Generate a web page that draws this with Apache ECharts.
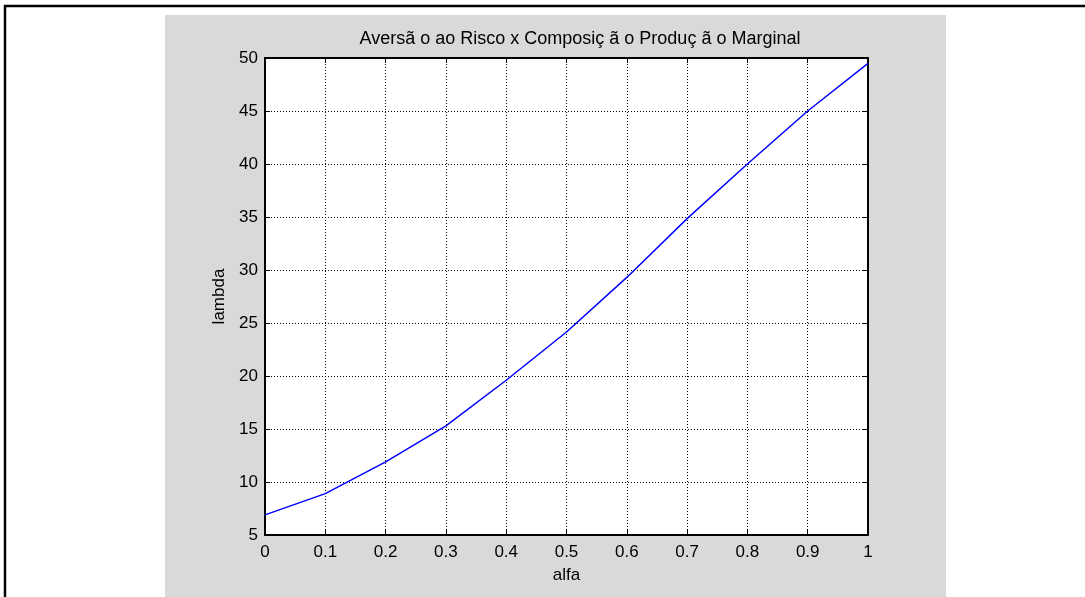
<!DOCTYPE html>
<html>
<head>
<meta charset="utf-8">
<script src="https://cdn.jsdelivr.net/npm/echarts@6/dist/echarts.min.js"></script>
<style>
html,body{margin:0;padding:0;background:#fff;}
#c{width:1085px;height:597px;}
</style>
</head>
<body>
<div id="c"></div>
<script>
const titleText = 'Aversã o ao Risco x Composiç ã o Produç ã o Marginal';
const xName = 'alfa';
const yName = 'lambda';
const alfa = [0, 0.1, 0.2, 0.3, 0.4, 0.5, 0.6, 0.7, 0.8, 0.9, 1.0];
const lambda = [6.9, 8.9, 11.9, 15.3, 19.6, 24.15, 29.3, 34.85, 40.0, 45.0, 49.5];
const xTicks = [0, 0.1, 0.2, 0.3, 0.4, 0.5, 0.6, 0.7, 0.8, 0.9, 1];
const yTicks = [5, 10, 15, 20, 25, 30, 35, 40, 45, 50];

const chart = echarts.init(document.getElementById('c'), null, {renderer: 'canvas'});
const FONT = 'Liberation Sans, Arial, sans-serif';
const FS = 17;
const fmt = v => String(Math.round(v * 10) / 10);

const common = {
  axisLine: {show: true, onZero: false, lineStyle: {color: '#000', width: 2}},
  axisTick: {show: true, inside: true, length: 5, lineStyle: {color: '#000', width: 1}},
};

chart.setOption({
  animation: false,
  backgroundColor: '#fff',
  graphic: [
    {type: 'rect', z: -10, shape: {x: 165, y: 15, width: 781, height: 600}, style: {fill: '#d9d9d9'}},
    {type: 'rect', z: -9, shape: {x: 5, y: 6, width: 1300, height: 800}, style: {fill: 'none', stroke: '#000', lineWidth: 2.5}}
  ],
  title: {
    text: titleText, left: 575, top: 25, textAlign: 'center',
    textStyle: {fontFamily: FONT, fontSize: 18, fontWeight: 'normal', color: '#000'}
  },
  grid: {left: 265, right: 217, top: 58, bottom: 62, show: true, backgroundColor: '#fff', borderColor: '#000', borderWidth: 0},
  xAxis: [{
    type: 'value', min: xTicks[0], max: xTicks[xTicks.length - 1], interval: 0.1,
    position: 'bottom',
    name: xName, nameLocation: 'middle', nameGap: 32,
    nameTextStyle: {fontFamily: FONT, fontSize: FS, color: '#000'},
    ...common,
    axisLabel: {fontFamily: FONT, fontSize: FS, color: '#000', margin: 9, formatter: fmt},
    splitLine: {show: true, lineStyle: {color: '#000', type: [1, 2], width: 1}}
  }, {
    type: 'value', min: xTicks[0], max: xTicks[xTicks.length - 1], interval: 0.1,
    position: 'top', ...common, axisLabel: {show: false}, splitLine: {show: false}
  }],
  yAxis: [{
    type: 'value', min: yTicks[0], max: yTicks[yTicks.length - 1], interval: 5,
    position: 'left',
    name: yName, nameLocation: 'middle', nameGap: 33, nameRotate: 90,
    nameTextStyle: {fontFamily: FONT, fontSize: FS, color: '#000'},
    ...common,
    axisLabel: {fontFamily: FONT, fontSize: FS, color: '#000', margin: 7},
    splitLine: {show: true, lineStyle: {color: '#000', type: [1, 2], width: 1}}
  }, {
    type: 'value', min: yTicks[0], max: yTicks[yTicks.length - 1], interval: 5,
    position: 'right', ...common, axisLabel: {show: false}, splitLine: {show: false}
  }],
  series: [{
    type: 'line', xAxisIndex: 0, yAxisIndex: 0,
    data: alfa.map((a, i) => [a, lambda[i]]),
    showSymbol: false, symbol: 'none',
    lineStyle: {color: '#0000ff', width: 1.5},
    z: 5
  }]
});
</script>
</body>
</html>
